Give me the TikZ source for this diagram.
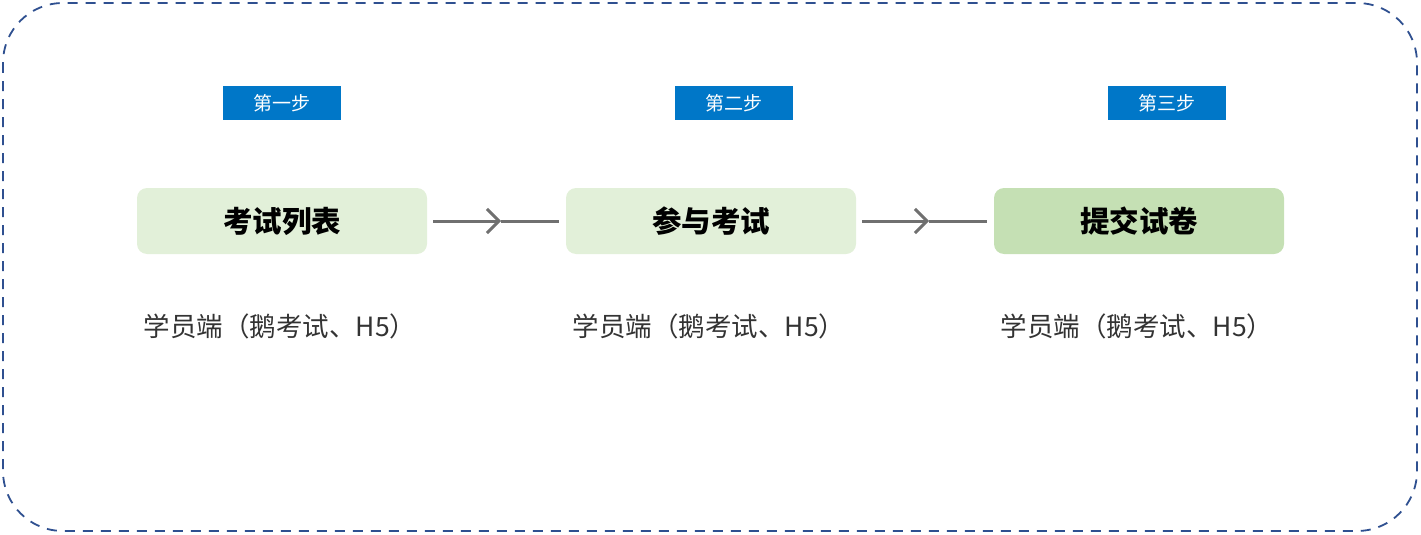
\documentclass[tikz,border=0pt]{standalone}
\usepackage{fontspec}
\newfontfamily\cjk{Noto Sans CJK SC}
\usetikzlibrary{arrows.meta}
\definecolor{framec}{HTML}{2F5090}
\definecolor{stepc}{HTML}{0077C8}
\definecolor{lightg}{HTML}{E2F0D9}
\definecolor{darkg}{HTML}{C5E0B4}
\definecolor{arrc}{HTML}{707070}
\definecolor{subc}{HTML}{333333}
\tikzset{
  stepbox/.style={fill=stepc, text=white, minimum width=118pt, minimum height=34pt, inner sep=0pt, font=\cjk\fontsize{19}{19}\selectfont},
  mainbox/.style={rounded corners=10pt, minimum width=290pt, minimum height=66pt, inner sep=0pt, font=\cjk\bfseries\fontsize{29.5}{29.5}\selectfont},
  subtxt/.style={text=subc, inner sep=0pt, font=\cjk\fontsize{26.5}{26.5}\selectfont},
  conn/.style={draw=arrc, line width=3pt},
  connarr/.style={conn, -{Straight Barb[length=12pt, width=24pt, line width=3pt]}},
}
\begin{document}
\begin{tikzpicture}[x=1pt,y=-1pt]
\useasboundingbox (0,0) rectangle (1421,535);
\draw[framec, dash pattern=on 10pt off 8pt, line width=1.8pt, rounded corners=60pt] (3,3) rectangle (1417,531);
\node[stepbox] (s1) at (282,103) {第一步};
\node[stepbox] (s2) at (734,103) {第二步};
\node[stepbox] (s3) at (1167,103) {第三步};
\node[mainbox, fill=lightg] (b1) at (282,221) {考试列表};
\node[mainbox, fill=lightg] (b2) at (711,221) {参与考试};
\node[mainbox, fill=darkg] (b3) at (1139,221) {提交试卷};
\node[subtxt] (t1) at (280,326) {学员端（鹅考试、H5）};
\node[subtxt] (t2) at (709,326) {学员端（鹅考试、H5）};
\node[subtxt] (t3) at (1137,326) {学员端（鹅考试、H5）};
\coordinate (m1) at (501,221);
\coordinate (m2) at (929,221);
\draw[connarr] ([xshift=6pt]b1.east) -- (m1);
\draw[conn] (m1) -- ([xshift=-7pt]b2.west);
\draw[connarr] ([xshift=6pt]b2.east) -- (m2);
\draw[conn] (m2) -- ([xshift=-7pt]b3.west);
\end{tikzpicture}
\end{document}
